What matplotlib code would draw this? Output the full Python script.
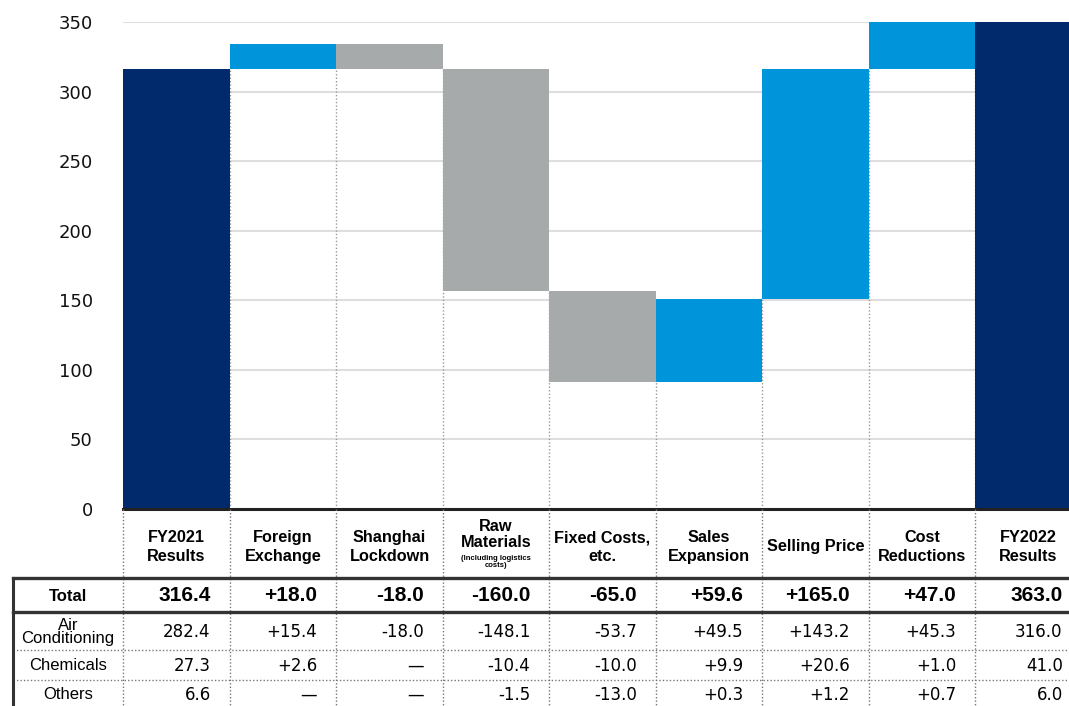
import numpy as np
import matplotlib.pyplot as plt

# ---- data ----
categories = ['FY2021\nResults', 'Foreign\nExchange', 'Shanghai\nLockdown', 'Raw\nMaterials',
              'Fixed Costs,\netc.', 'Sales\nExpansion', 'Selling Price', 'Cost\nReductions',
              'FY2022\nResults']
total = [316.4, 18.0, -18.0, -160.0, -65.0, 59.6, 165.0, 47.0, 363.0]
is_total = [True, False, False, False, False, False, False, False, True]
row_labels = ['Total', 'Air\nConditioning', 'Chemicals', 'Others']
air_cond = ['282.4', '+15.4', '-18.0', '-148.1', '-53.7', '+49.5', '+143.2', '+45.3', '316.0']
chemicals = ['27.3', '+2.6', '—', '-10.4', '-10.0', '+9.9', '+20.6', '+1.0', '41.0']
others = ['6.6', '—', '—', '-1.5', '-13.0', '+0.3', '+1.2', '+0.7', '6.0']
yticks = [0, 50, 100, 150, 200, 250, 300, 350]

NAVY = '#002a6c'
BLUE = '#0095da'
GREY = '#a7aaaa'

# ---- waterfall geometry ----
bottoms, heights, colors, white_top = [], [], [], []
run = 0
for v, t in zip(total, is_total):
    if t:
        bottoms.append(0); heights.append(v); colors.append(NAVY)
        white_top.append(v)
        run = v
    else:
        b = run if v > 0 else run + v
        bottoms.append(b); heights.append(abs(v))
        colors.append(BLUE if v > 0 else GREY)
        white_top.append(b)
        run += v

# layout in pixels of the 1069x706 frame
W, H = 1069, 706
x0 = 123.3          # left edge of first column
px = 106.5          # column width
y_top, y_axis = 22, 509
edges = np.arange(len(total) + 1, dtype=float)
centers = edges[:-1] + 0.5
xmax = (W - x0) / px   # last column is cut by the frame

fig = plt.figure(figsize=(W / 100, H / 100), dpi=100)

ax = fig.add_axes([x0 / W, (H - y_axis) / H, (W - x0) / W, (y_axis - y_top) / H])
ax.set_xlim(0, xmax)
ax.set_ylim(0, 350)
ax.bar(edges[:-1], heights, width=1, bottom=bottoms, align='edge',
       color=colors, linewidth=0, zorder=3)
for y in yticks[1:]:
    ax.axhline(y, color='#dedede', lw=1.5, zorder=0)
for i in range(1, 9):
    top = max(white_top[i - 1], white_top[i])
    ax.plot([edges[i], edges[i]], [0, top], color='#9a9a9a', lw=1,
            ls=(0, (1, 1.5)), zorder=1)
for s in ['top', 'right', 'left']:
    ax.spines[s].set_visible(False)
ax.spines['bottom'].set_linewidth(2.2)
ax.spines['bottom'].set_color('#222222')
ax.spines['bottom'].set_zorder(5)
ax.set_xticks([])
ax.set_yticks(yticks)
ax.tick_params(axis='y', length=0, pad=22, labelsize=13, labelcolor='#111111')

# ---- table underneath ----
tab = fig.add_axes([x0 / W, 0, (W - x0) / W, (H - y_axis) / H])
tab.set_xlim(0, xmax)
tab.set_ylim(H, y_axis)
tab.axis('off')

xl = (13 - x0) / px      # table left border
xlab = xl / 2            # row label centre

# header labels
sans = 'Liberation Sans'
for i, c in enumerate(categories):
    if i == 3:
        tab.text(centers[i], 534.5, c, ha='center', va='center', fontsize=11.7,
                 fontweight='bold', family=sans, linespacing=1.1)
        tab.text(centers[i], 562, '(Including logistics\ncosts)', ha='center',
                 va='center', fontsize=5.5, fontweight='bold', family=sans,
                 linespacing=1.0)
    else:
        tab.text(centers[i], 547, c, ha='center', va='center', fontsize=11.7,
                 fontweight='bold', family=sans, linespacing=1.33)

# grid lines of table
for i in range(0, 9):
    tab.plot([edges[i], edges[i]], [y_axis, H], color='#777777', lw=1,
             ls=(0, (1, 1.5)), clip_on=False)
tab.plot([xl, xmax], [578, 578], color='#333333', lw=2.4, clip_on=False)
tab.plot([xl, xmax], [612, 612], color='#333333', lw=2.4, clip_on=False)
tab.plot([xl, xmax], [650, 650], color='#777777', lw=1, ls=(0, (1, 1.5)), clip_on=False)
tab.plot([xl, xmax], [680, 680], color='#777777', lw=1, ls=(0, (1, 1.5)), clip_on=False)
tab.plot([xl, xl], [578, H], color='#333333', lw=2.2, clip_on=False)

# row labels
row_y = [597, 632, 666, 695]
tab.text(xlab, row_y[0], row_labels[0], ha='center', va='center', fontsize=12,
         fontweight='bold', family=sans, clip_on=False)
for r in range(1, 4):
    tab.text(xlab, row_y[r], row_labels[r], ha='center', va='center', fontsize=12,
             family=sans, linespacing=0.85, clip_on=False)

# values
total_txt = [f'{v:.1f}' if t else f'{v:+.1f}' for v, t in zip(total, is_total)]
for i in range(9):
    xr = edges[i] + 0.82
    tab.text(xr, row_y[0] - 1, total_txt[i], ha='right', va='center', fontsize=15,
             fontweight='bold', family=sans)
    for r, vals in zip(range(1, 4), [air_cond, chemicals, others]):
        tab.text(xr, row_y[r], vals[i], ha='right', va='center', fontsize=12,
                 family='DejaVu Sans')

fig.savefig('out.png', dpi=100)
